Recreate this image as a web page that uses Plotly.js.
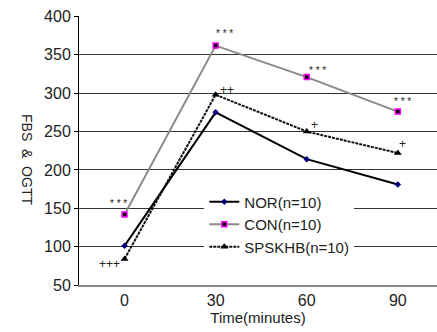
<!DOCTYPE html>
<html>
<head>
<meta charset="utf-8">
<script src="https://cdn.plot.ly/plotly-3.0.1.min.js"></script>
<style>html,body{margin:0;padding:0;background:#fff;}#chart{width:437px;height:332px;}</style>
</head>
<body>
<div id="chart"></div>
<script>
var categories = ['0', '30', '60', '90'];
var norValues = [101, 275, 214, 181];
var conValues = [142, 362, 321, 276];
var spsValues = [84, 298, 250, 222];
var seriesNames = ['NOR(n=10)', 'CON(n=10)', 'SPSKHB(n=10)'];
var conMarks = ['* * *', '* * *', '* * *', '* * *'];
var spsMarks = ['+++', '++', '+', '+'];
var yTicks = [50, 100, 150, 200, 250, 300, 350, 400];

var font = 'Liberation Sans, Arial, sans-serif';

var traces = [
  {x: categories, y: norValues, name: seriesNames[0], type: 'scatter', mode: 'lines+markers',
   line: {color: '#000000', width: 2},
   marker: {symbol: 'diamond', size: 5, color: '#000080'}},
  {x: categories, y: conValues, name: seriesNames[1], type: 'scatter', mode: 'lines+markers',
   line: {color: '#8a8a8a', width: 2},
   marker: {symbol: 'square', size: 5, color: '#000000', line: {color: '#ff00ff', width: 1.5}}},
  {x: categories, y: spsValues, name: seriesNames[2], type: 'scatter', mode: 'lines+markers',
   line: {color: '#111111', width: 2, dash: '3px,1px'},
   marker: {symbol: 'triangle-up', size: 7, color: '#000000'}}
];

var conShift = [[-6, 11], [9, 12], [11, 7], [5, 10]];
var spsShift = [[-15, -5], [11, 5], [8, 7], [5, 9]];
var annotations = [];
categories.forEach(function (c, i) {
  annotations.push({x: i, y: conValues[i], xref: 'x', yref: 'y', text: conMarks[i], showarrow: false,
    xshift: conShift[i][0], yshift: conShift[i][1], font: {family: font, size: 10, color: '#222'}});
  annotations.push({x: i, y: spsValues[i], xref: 'x', yref: 'y', text: spsMarks[i], showarrow: false,
    xshift: spsShift[i][0], yshift: spsShift[i][1], font: {family: font, size: 12, color: '#222'}});
});
annotations.push({x: (17 - 79) / 358, y: 1 - (160 - 16) / 269, xref: 'paper', yref: 'paper',
  text: 'FBS &nbsp;&amp;&nbsp; OGTT', showarrow: false,
  textangle: 90, font: {family: font, size: 14, color: '#222'}});

var layout = {
  width: 437, height: 332,
  margin: {l: 79, r: 0, t: 16, b: 47},
  paper_bgcolor: '#ffffff', plot_bgcolor: '#ffffff',
  showlegend: true,
  legend: {x: 0.35, y: 0.37, xanchor: 'left', yanchor: 'top', bgcolor: '#ffffff', borderwidth: 0,
    font: {family: font, size: 15, color: '#222'}, tracegroupgap: 0},
  xaxis: {type: 'category', range: [-0.5, 3.43], showgrid: false, showline: true, linecolor: '#888',
    linewidth: 2, ticks: '', tickfont: {family: font, size: 16, color: '#222'},
    title: {text: 'Time(minutes)', font: {family: font, size: 15, color: '#222'}, standoff: 2},
    fixedrange: true},
  yaxis: {range: [50, 400.6], tickvals: yTicks, showgrid: true, gridcolor: '#333', gridwidth: 1,
    showline: true, linecolor: '#000', linewidth: 1, ticks: 'outside', ticklen: 4, tickcolor: '#000',
    zeroline: false, tickfont: {family: font, size: 16, color: '#222'}, fixedrange: true},
  annotations: annotations
};

Plotly.newPlot('chart', traces, layout, {staticPlot: true, displayModeBar: false});
</script>
</body>
</html>
